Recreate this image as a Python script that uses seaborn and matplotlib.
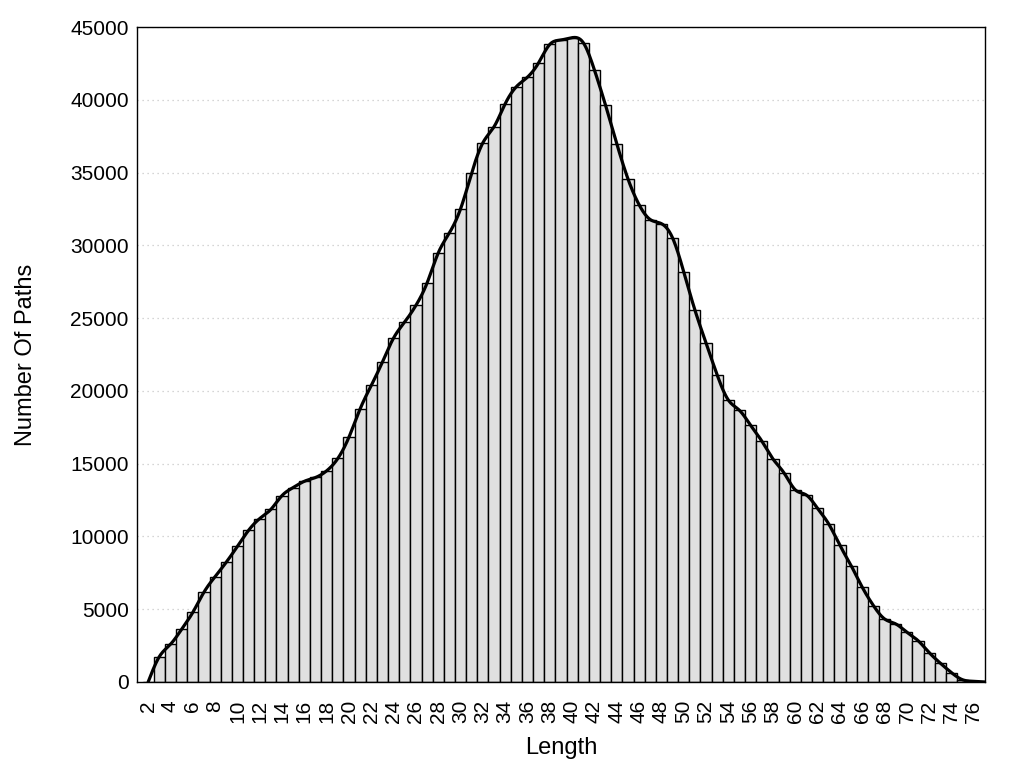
import numpy as np
import pandas as pd
import matplotlib
matplotlib.use("Agg")
import matplotlib.pyplot as plt
import seaborn as sns

# path length histogram
lengths = list(range(2, 78))
counts = [
    0, 1740, 2590, 3620, 4780, 6170, 7240, 8230, 9320, 10420,
    11230, 11860, 12810, 13360, 13790, 14050, 14510, 15360, 16830, 18770,
    20380, 21990, 23640, 24740, 25880, 27420, 29480, 30860, 32510, 34990,
    37050, 38150, 39730, 40900, 41560, 42550, 43810, 44110, 44270, 43920,
    42040, 39610, 36980, 34570, 32790, 31770, 31490, 30510, 28180, 25560,
    23290, 21090, 19370, 18660, 17630, 16550, 15320, 14350, 13200, 12840,
    11920, 10850, 9380, 8000, 6510, 5250, 4330, 3990, 3420, 2840,
    2020, 1290, 640, 150, 50, 0,
]
x_tick_labels = [str(v) for v in range(2, 77, 2)]
y_ticks = list(range(0, 45001, 5000))

data = pd.DataFrame({"Length": lengths, "Paths": counts})


def natural_spline(x, y, xs):
    # plain natural cubic spline, same idea as gnuplot "smooth csplines"
    n = len(x)
    h = np.diff(x)
    A = np.zeros((n, n))
    b = np.zeros(n)
    A[0, 0] = A[-1, -1] = 1
    for i in range(1, n - 1):
        A[i, i - 1] = h[i - 1]
        A[i, i] = 2 * (h[i - 1] + h[i])
        A[i, i + 1] = h[i]
        b[i] = 3 * ((y[i + 1] - y[i]) / h[i] - (y[i] - y[i - 1]) / h[i - 1])
    c = np.linalg.solve(A, b)
    bc = (y[1:] - y[:-1]) / h - h * (2 * c[:-1] + c[1:]) / 3
    d = (c[1:] - c[:-1]) / (3 * h)
    idx = np.clip(np.searchsorted(x, xs) - 1, 0, n - 2)
    dx = xs - x[idx]
    return y[idx] + bc[idx] * dx + c[idx] * dx ** 2 + d[idx] * dx ** 3


sns.set_style("white")
plt.rcParams["font.family"] = ["Liberation Sans", "DejaVu Sans"]
plt.rcParams["text.color"] = "black"
plt.rcParams["axes.labelcolor"] = "black"
plt.rcParams["xtick.color"] = "black"
plt.rcParams["ytick.color"] = "black"

fig = plt.figure(figsize=(10.24, 7.68), dpi=100)
ax = fig.add_axes([0.1338, 0.112, 0.8281, 0.8528])
ax.set_axisbelow(True)

sns.barplot(data=data, x="Length", y="Paths", native_scale=True, width=1,
            color="#e0e0e0", saturation=1, edgecolor="black", linewidth=1.0,
            ax=ax, zorder=2)

xs = np.linspace(lengths[0], lengths[-1], 1200)
ys = natural_spline(np.array(lengths, float), np.array(counts, float), xs)
sns.lineplot(x=xs, y=ys, color="black", linewidth=2.3, ax=ax, zorder=3)

ax.set_xlim(1, 77)
ax.set_ylim(0, 45000)
ax.set_xticks(lengths[:-1])
ax.set_xticklabels([str(v) if v % 2 == 0 else "" for v in lengths[:-1]],
                   rotation=90, fontsize=15)
ax.set_yticks(y_ticks)
ax.set_yticklabels([str(v) for v in y_ticks], fontsize=15)
ax.tick_params(direction="in", length=8, width=1, color="black",
               labelcolor="black", pad=6)
ax.tick_params(axis="x", pad=13)

ax.yaxis.grid(True, color="#c8c8c8", linestyle=(0, (1, 3)), linewidth=0.9)
ax.xaxis.grid(False)
for sp in ax.spines.values():
    sp.set_visible(True)
    sp.set_color("black")
    sp.set_linewidth(1.0)

ax.set_xlabel("Length", fontsize=17, labelpad=10, color="black")
ax.set_ylabel("Number Of Paths", fontsize=17, labelpad=24, color="black")

fig.savefig("out.png", dpi=100)
